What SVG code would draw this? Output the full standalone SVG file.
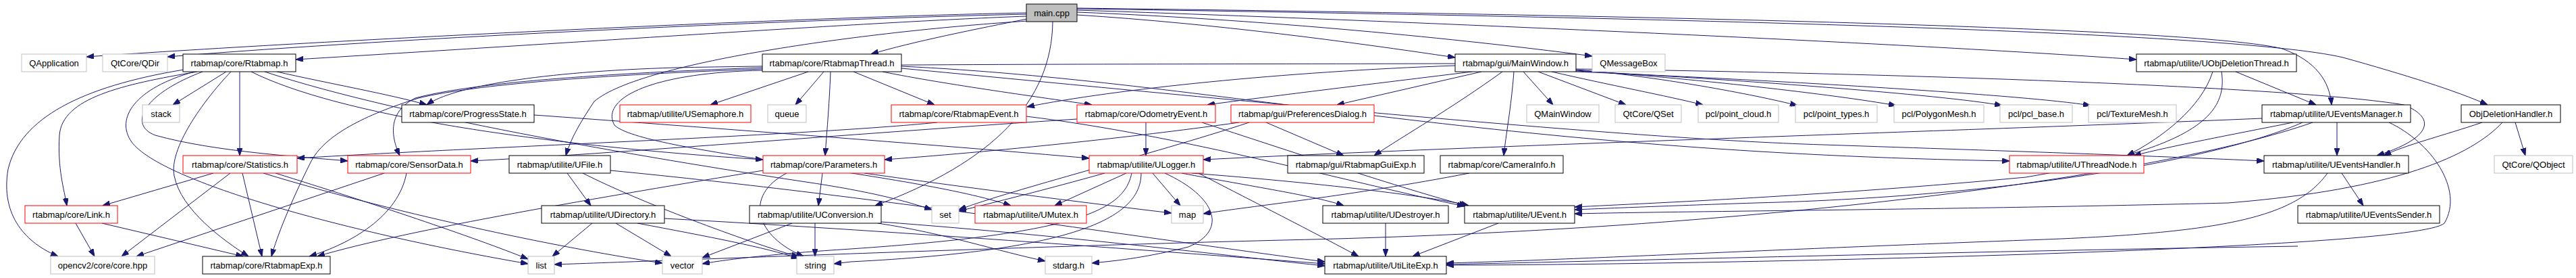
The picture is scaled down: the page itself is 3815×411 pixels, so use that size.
<svg xmlns="http://www.w3.org/2000/svg" width="3815" height="411" viewBox="0 0 3815 411">
<style>
.n rect{fill:#fff;stroke:#000;stroke-width:1}
.g rect{stroke:#bfbfbf}
.r rect{stroke:#ff0000}
.m rect{fill:#bfbfbf}
text{font-family:"Liberation Sans",Arial,Helvetica,sans-serif;font-size:13px;text-anchor:middle;fill:#000}
#edges path{fill:none;stroke:#191970;stroke-width:1;marker-end:url(#ah)}
</style>
<defs>
<marker id="ah" viewBox="0 0 11 8" markerWidth="11" markerHeight="8" refX="11" refY="4" orient="auto" markerUnits="userSpaceOnUse"><path d="M0,0L11,4L0,8z" fill="#191970" stroke="#191970" stroke-width="1"/></marker>
</defs>
<rect width="3815" height="411" fill="#fff"/>
<g id="edges">
<path d="M1520,19 C1200,25 500,58 128,84"/>
<path d="M1520,21 C1200,28 600,55 248,84"/>
<path d="M1520,24 C1300,32 900,60 438,88"/>
<path d="M1521,28 C1450,42 1350,62 1290,80"/>
<path d="M1522,31 C1300,45 950,90 880,150 C860,180 845,205 838,230"/>
<path d="M1559,32 C1558,150 1470,240 1296,304"/>
<path d="M1595,22 C1800,35 2000,62 2155,85"/>
<path d="M1595,18 C1900,30 2200,62 2358,83"/>
<path d="M1595,15 C2000,28 2800,62 3164,88"/>
<path d="M1595,12 C2400,22 3250,40 3380,72 C3430,90 3450,120 3453,155"/>
<path d="M1595,13 C2400,25 3300,45 3470,85 C3560,110 3640,135 3684,155"/>
<path d="M335,106 L256,155"/>
<path d="M410,106 C480,122 580,140 632,155"/>
<path d="M355,106 L355,230"/>
<path d="M292,106 C180,125 92,145 88,200 C85,250 95,280 99,304"/>
<path d="M272,103 C120,128 30,175 12,250 C0,320 40,360 86,379"/>
<path d="M288,106 C200,130 170,175 195,210 C240,270 520,345 782,390"/>
<path d="M342,106 C300,150 250,220 258,260 C268,310 330,355 368,379"/>
<path d="M300,106 C210,140 190,185 230,200 C320,225 450,232 515,238"/>
<path d="M372,106 C500,170 800,215 1130,236"/>
<path d="M392,106 C600,175 1000,240 1200,270 C1300,285 1350,300 1380,310"/>
<path d="M1197,106 L1052,155"/>
<path d="M1220,106 L1178,155"/>
<path d="M1230,106 C1228,160 1224,200 1222,230"/>
<path d="M1264,106 L1384,155"/>
<path d="M1307,106 C1400,125 1550,145 1617,155"/>
<path d="M1129,100 C850,110 690,125 615,145 C575,165 578,200 592,230"/>
<path d="M1129,102 C850,112 690,128 620,145 C540,170 480,200 460,240 C430,300 410,350 402,379"/>
<path d="M1129,104 C950,108 890,150 910,185 C950,225 1350,255 1497,304"/>
<path d="M1335,98 C1800,120 2200,225 2976,238"/>
<path d="M1335,101 C1800,145 2400,205 2700,214 C3000,224 3200,231 3353,238"/>
<path d="M2256,106 L2300,155"/>
<path d="M2278,106 L2408,155"/>
<path d="M2298,106 C2380,125 2470,142 2522,155"/>
<path d="M2334,103 C2450,112 2600,140 2662,156"/>
<path d="M2334,104 C2500,115 2720,140 2808,156"/>
<path d="M2334,105 C2550,116 2880,140 2965,156"/>
<path d="M2334,106 C2600,117 3000,140 3096,156"/>
<path d="M2334,102 C2800,108 3400,128 3560,155 C3610,175 3600,205 3520,230"/>
<path d="M2155,97 C1900,106 1650,132 1521,158"/>
<path d="M2180,106 C2000,128 1860,145 1788,155"/>
<path d="M2194,106 L1980,155"/>
<path d="M2225,106 C2150,160 2080,200 2035,230"/>
<path d="M2242,106 C2238,160 2230,200 2227,230"/>
<path d="M2155,94 C1800,95 1300,94 1000,100 C800,106 670,128 632,155"/>
<path d="M1388,181 C1200,200 700,218 440,234"/>
<path d="M1520,172 C1750,200 2000,270 2169,305"/>
<path d="M1697,181 L1697,230"/>
<path d="M1595,176 C1300,195 900,228 697,238"/>
<path d="M1780,181 C1900,220 2080,280 2172,304"/>
<path d="M1835,181 C1700,200 1500,222 1310,236"/>
<path d="M1875,181 L1990,230"/>
<path d="M1850,181 C1700,230 1500,280 1420,310"/>
<path d="M791,170 C1000,185 1400,215 1613,234"/>
<path d="M316,256 L152,304"/>
<path d="M341,256 L180,379"/>
<path d="M359,256 L388,379"/>
<path d="M390,256 C600,320 850,370 981,389"/>
<path d="M408,256 C550,300 700,350 782,383"/>
<path d="M569,256 L202,379"/>
<path d="M602,256 C590,320 520,360 458,379"/>
<path d="M112,330 L140,379"/>
<path d="M151,330 L360,379"/>
<path d="M840,256 L875,304"/>
<path d="M863,256 C950,300 1100,355 1183,380"/>
<path d="M904,252 C1300,290 1750,360 1962,387"/>
<path d="M877,330 L818,379"/>
<path d="M912,330 L994,379"/>
<path d="M944,330 C1050,350 1130,365 1183,382"/>
<path d="M984,323 C1300,340 1700,370 1962,390"/>
<path d="M1218,256 L1212,304"/>
<path d="M1165,256 C1100,290 1120,350 1190,379"/>
<path d="M1130,252 C900,290 600,340 470,379"/>
<path d="M1280,256 C1450,280 1650,305 1735,315"/>
<path d="M1173,330 L1040,381"/>
<path d="M1207,330 L1207,379"/>
<path d="M1300,330 C1400,345 1480,372 1548,386"/>
<path d="M1305,328 C1600,350 1850,382 1962,393"/>
<path d="M1636,256 C1550,280 1470,300 1420,312"/>
<path d="M1668,256 L1562,304"/>
<path d="M1707,256 L1748,304"/>
<path d="M1676,256 C1665,310 1600,345 1260,368 C1150,375 1080,383 1040,390"/>
<path d="M1690,256 C1690,320 1600,370 1260,387 L1235,390"/>
<path d="M1725,256 C1800,290 1820,340 1760,365 C1700,380 1660,385 1617,389"/>
<path d="M1750,256 C1850,275 1950,290 1990,304"/>
<path d="M1765,256 C1950,270 2120,290 2175,304"/>
<path d="M1775,256 C1840,290 1920,330 2012,379"/>
<path d="M2176,256 C2000,290 1850,305 1782,316"/>
<path d="M2052,330 L2052,379"/>
<path d="M2219,330 L2092,379"/>
<path d="M3461,181 L3461,230"/>
<path d="M3396,181 C3300,200 3220,215 3160,230"/>
<path d="M3410,181 C3300,230 3000,290 2600,300 C2450,305 2380,308 2332,310"/>
<path d="M3350,175 C3000,190 2200,215 1782,236"/>
<path d="M3538,181 C3600,210 3650,280 3620,330 C3580,370 2500,392 2142,392"/>
<path d="M3425,181 C3200,260 2600,340 1900,355 C1500,365 1000,385 821,391"/>
<path d="M3311,106 L3430,155"/>
<path d="M3277,106 C3260,160 3200,205 3150,230"/>
<path d="M3290,106 C3300,170 3250,220 3000,262 C2700,290 2450,300 2332,306"/>
<path d="M3725,181 L3740,230"/>
<path d="M3676,181 C3620,200 3560,215 3530,230"/>
<path d="M3706,181 C3660,230 3550,280 3300,300 C2900,310 2500,312 2332,316"/>
<path d="M3468,256 L3500,304"/>
<path d="M3447,256 C3400,320 3300,345 3000,355 C2600,370 2300,385 2142,389"/>
<path d="M3403,364 C3000,370 2500,383 2142,391"/>
</g>
<g id="main" class="n m"><rect x="1520" y="6" width="75" height="26"/><text x="1557.5" y="23.5">main.cpp</text></g>
<g id="QApplication" class="n g"><rect x="32" y="80" width="96" height="26"/><text x="80" y="97.5">QApplication</text></g>
<g id="QDir" class="n g"><rect x="152" y="80" width="96" height="26"/><text x="200" y="97.5">QtCore/QDir</text></g>
<g id="Rtabmap" class="n"><rect x="271" y="80" width="167" height="26"/><text x="354.5" y="97.5">rtabmap/core/Rtabmap.h</text></g>
<g id="RtabmapThread" class="n"><rect x="1129" y="80" width="206" height="26"/><text x="1232" y="97.5">rtabmap/core/RtabmapThread.h</text></g>
<g id="MainWindow" class="n"><rect x="2155" y="80" width="179" height="26"/><text x="2244.5" y="97.5">rtabmap/gui/MainWindow.h</text></g>
<g id="QMessageBox" class="n g"><rect x="2358" y="80" width="108" height="26"/><text x="2412" y="97.5">QMessageBox</text></g>
<g id="UObjDeletionThread" class="n"><rect x="3164" y="80" width="237" height="26"/><text x="3282.5" y="97.5">rtabmap/utilite/UObjDeletionThread.h</text></g>
<g id="stack" class="n g"><rect x="211" y="155" width="55" height="26"/><text x="238.5" y="172.5">stack</text></g>
<g id="ProgressState" class="n"><rect x="595" y="155" width="196" height="26"/><text x="693" y="172.5">rtabmap/core/ProgressState.h</text></g>
<g id="USemaphore" class="n r"><rect x="918" y="155" width="194" height="26"/><text x="1015" y="172.5">rtabmap/utilite/USemaphore.h</text></g>
<g id="queue" class="n g"><rect x="1137" y="155" width="57" height="26"/><text x="1165.5" y="172.5">queue</text></g>
<g id="RtabmapEvent" class="n r"><rect x="1320" y="155" width="200" height="26"/><text x="1420" y="172.5">rtabmap/core/RtabmapEvent.h</text></g>
<g id="OdometryEvent" class="n r"><rect x="1595" y="155" width="205" height="26"/><text x="1697.5" y="172.5">rtabmap/core/OdometryEvent.h</text></g>
<g id="PreferencesDialog" class="n r"><rect x="1823" y="155" width="212" height="26"/><text x="1929" y="172.5">rtabmap/gui/PreferencesDialog.h</text></g>
<g id="QMainWindow" class="n g"><rect x="2261" y="155" width="107" height="26"/><text x="2314.5" y="172.5">QMainWindow</text></g>
<g id="QSet" class="n g"><rect x="2392" y="155" width="98" height="26"/><text x="2441" y="172.5">QtCore/QSet</text></g>
<g id="point_cloud" class="n g"><rect x="2515" y="155" width="119" height="26"/><text x="2574.5" y="172.5">pcl/point_cloud.h</text></g>
<g id="point_types" class="n g"><rect x="2659" y="155" width="121" height="26"/><text x="2719.5" y="172.5">pcl/point_types.h</text></g>
<g id="PolygonMesh" class="n g"><rect x="2805" y="155" width="133" height="26"/><text x="2871.5" y="172.5">pcl/PolygonMesh.h</text></g>
<g id="pcl_base" class="n g"><rect x="2962" y="155" width="107" height="26"/><text x="3015.5" y="172.5">pcl/pcl_base.h</text></g>
<g id="TextureMesh" class="n g"><rect x="3093" y="155" width="130" height="26"/><text x="3158" y="172.5">pcl/TextureMesh.h</text></g>
<g id="UEventsManager" class="n"><rect x="3350" y="155" width="220" height="26"/><text x="3460" y="172.5">rtabmap/utilite/UEventsManager.h</text></g>
<g id="ObjDeletionHandler" class="n"><rect x="3645" y="155" width="147" height="26"/><text x="3718.5" y="172.5">ObjDeletionHandler.h</text></g>
<g id="Statistics" class="n r"><rect x="271" y="230" width="169" height="26"/><text x="355.5" y="247.5">rtabmap/core/Statistics.h</text></g>
<g id="SensorData" class="n r"><rect x="515" y="230" width="182" height="26"/><text x="606" y="247.5">rtabmap/core/SensorData.h</text></g>
<g id="UFile" class="n"><rect x="754" y="230" width="150" height="26"/><text x="829" y="247.5">rtabmap/utilite/UFile.h</text></g>
<g id="Parameters" class="n r"><rect x="1130" y="230" width="180" height="26"/><text x="1220" y="247.5">rtabmap/core/Parameters.h</text></g>
<g id="ULogger" class="n r"><rect x="1613" y="230" width="169" height="26"/><text x="1697.5" y="247.5">rtabmap/utilite/ULogger.h</text></g>
<g id="RtabmapGuiExp" class="n"><rect x="1907" y="230" width="202" height="26"/><text x="2008" y="247.5">rtabmap/gui/RtabmapGuiExp.h</text></g>
<g id="CameraInfo" class="n"><rect x="2133" y="230" width="182" height="26"/><text x="2224" y="247.5">rtabmap/core/CameraInfo.h</text></g>
<g id="UThreadNode" class="n r"><rect x="2976" y="230" width="199" height="26"/><text x="3075.5" y="247.5">rtabmap/utilite/UThreadNode.h</text></g>
<g id="UEventsHandler" class="n"><rect x="3353" y="230" width="214" height="26"/><text x="3460" y="247.5">rtabmap/utilite/UEventsHandler.h</text></g>
<g id="QObject" class="n g"><rect x="3694" y="230" width="116" height="26"/><text x="3752" y="247.5">QtCore/QObject</text></g>
<g id="Link" class="n r"><rect x="37" y="304" width="137" height="26"/><text x="105.5" y="321.5">rtabmap/core/Link.h</text></g>
<g id="UDirectory" class="n"><rect x="802" y="304" width="182" height="26"/><text x="893" y="321.5">rtabmap/utilite/UDirectory.h</text></g>
<g id="UConversion" class="n"><rect x="1110" y="304" width="195" height="26"/><text x="1207.5" y="321.5">rtabmap/utilite/UConversion.h</text></g>
<g id="set" class="n g"><rect x="1380" y="304" width="40" height="26"/><text x="1400" y="321.5">set</text></g>
<g id="UMutex" class="n r"><rect x="1444" y="304" width="165" height="26"/><text x="1526.5" y="321.5">rtabmap/utilite/UMutex.h</text></g>
<g id="map" class="n g"><rect x="1735" y="304" width="47" height="26"/><text x="1758.5" y="321.5">map</text></g>
<g id="UDestroyer" class="n"><rect x="1959" y="304" width="186" height="26"/><text x="2052" y="321.5">rtabmap/utilite/UDestroyer.h</text></g>
<g id="UEvent" class="n"><rect x="2169" y="304" width="163" height="26"/><text x="2250.5" y="321.5">rtabmap/utilite/UEvent.h</text></g>
<g id="UEventsSender" class="n"><rect x="3403" y="304" width="210" height="26"/><text x="3508" y="321.5">rtabmap/utilite/UEventsSender.h</text></g>
<g id="opencv" class="n g"><rect x="75" y="379" width="154" height="26"/><text x="152" y="396.5">opencv2/core/core.hpp</text></g>
<g id="RtabmapExp" class="n"><rect x="300" y="379" width="189" height="26"/><text x="394.5" y="396.5">rtabmap/core/RtabmapExp.h</text></g>
<g id="list" class="n g"><rect x="782" y="379" width="39" height="26"/><text x="801.5" y="396.5">list</text></g>
<g id="vector" class="n g"><rect x="981" y="379" width="59" height="26"/><text x="1010.5" y="396.5">vector</text></g>
<g id="string" class="n g"><rect x="1180" y="379" width="55" height="26"/><text x="1207.5" y="396.5">string</text></g>
<g id="stdarg" class="n g"><rect x="1548" y="379" width="69" height="26"/><text x="1582.5" y="396.5">stdarg.h</text></g>
<g id="UtiLiteExp" class="n"><rect x="1962" y="379" width="180" height="26"/><text x="2052" y="396.5">rtabmap/utilite/UtiLiteExp.h</text></g>
</svg>
